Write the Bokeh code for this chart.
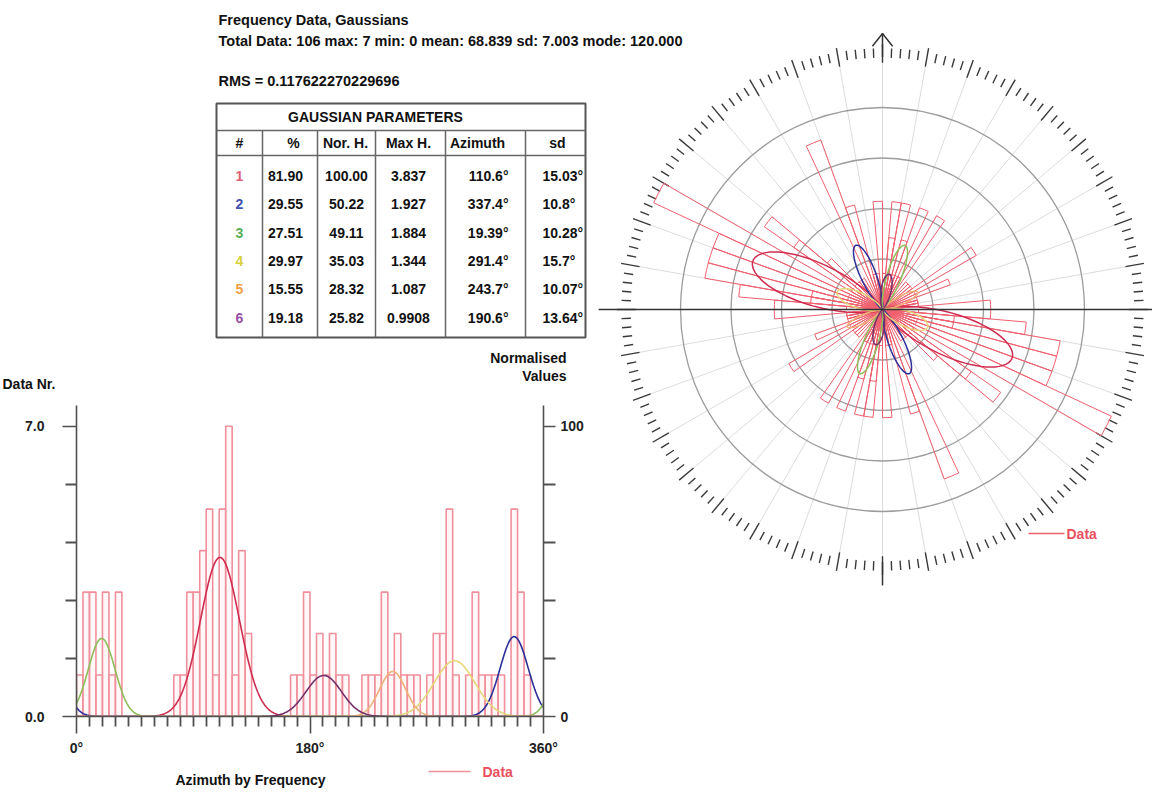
import numpy as np
from bokeh.plotting import figure
from bokeh.models import Range1d, LinearAxis, FixedTicker, GridBox, NumeralTickFormatter
from bokeh.core.properties import value
from bokeh.embed import file_html
from bokeh.resources import INLINE

FONT = "Liberation Sans"

# ---------------- data ----------------
header_line1 = "Frequency Data,  Gaussians"
header_line2 = "Total Data: 106  max: 7  min: 0  mean: 68.839  sd: 7.003  mode: 120.000"
rms_line = "RMS = 0.117622270229696"

bin_width = 5
bin_starts = list(range(0, 360, bin_width))
counts = [1, 3, 3, 1, 3, 1, 3, 0, 0, 0, 0, 0, 0, 0, 0, 1,
          1, 3, 3, 4, 5, 1, 5, 7, 1, 4, 2, 0, 0, 0, 0, 0,
          0, 1, 1, 3, 1, 2, 1, 2, 1, 1, 0, 0, 1, 1, 1, 3,
          1, 2, 1, 1, 1, 0, 1, 2, 2, 5, 1, 0, 1, 3, 1, 1,
          1, 1, 0, 5, 3, 1, 0, 0]

gauss_id = ["1", "2", "3", "4", "5", "6"]
gauss_pct = [81.90, 29.55, 27.51, 29.97, 15.55, 19.18]
gauss_norh = [100.00, 50.22, 49.11, 35.03, 28.32, 25.82]
gauss_maxh = [3.837, 1.927, 1.884, 1.344, 1.087, 0.9908]
gauss_az = [110.6, 337.4, 19.39, 291.4, 243.7, 190.6]
gauss_sd = [15.03, 10.8, 10.28, 15.7, 10.07, 13.64]
gauss_line_colors = ["#cf2d50", "#2b2f9a", "#8cbf5a", "#e6d77a", "#f0b276", "#74306a"]
gauss_id_colors = ["#e0607a", "#4050b0", "#55b055", "#d6cf3a", "#f0a040", "#9a50a8"]

table_title = "GAUSSIAN PARAMETERS"
table_headers = ["#", "%", "Nor. H.", "Max H.", "Azimuth", "sd"]

hist_x_ticks = [0, 180, 360]
hist_x_labels = ["0°", "180°", "360°"]
left_ticks = [0.0, 7.0]
left_minor = [1.4, 2.8, 4.2, 5.6]
right_ticks = [0, 100]
right_minor = [20, 40, 60, 80]
left_title = "Data Nr."
right_title = ["Normalised", "Values"]
x_title = "Azimuth by Frequency"
legend_label = "Data"

BAR_LINE = "#f0909c"
PETAL_LINE = "#f0606e"
AXIS = "#505050"

W, H = 1152, 790


def gauss(t, h, mu, sd):
    return sum(h * np.exp(-((t - mu + k) ** 2) / (2 * sd ** 2)) for k in (-360, 0, 360))


def bare(w, h, xr, yr, **kw):
    p = figure(width=w, height=h, x_range=xr, y_range=yr, output_backend="svg",
               toolbar_location=None, x_axis_location=None, y_axis_location=None, **kw)
    p.background_fill_color = None
    p.border_fill_color = None
    p.outline_line_color = None
    p.grid.visible = False
    p.frame_align = False
    return p


# ---------------- histogram ----------------
HX0, HY0 = 0, 400          # top-left of histogram figure on the page
HW, HH = 590, H - HY0
ymax = 7.5
hist = bare(HW, HH, Range1d(0, 360), Range1d(0, ymax),
            min_border_left=76, min_border_right=HW - 543, min_border_top=405 - HY0,
            min_border_bottom=H - 716)
hist.extra_y_ranges = {"norm": Range1d(0, ymax / 7 * 100)}

lefts = [s for s, c in zip(bin_starts, counts) if c > 0]
tops = [c for c in counts if c > 0]
hist.quad(left=lefts, right=[l + bin_width for l in lefts], bottom=0, top=tops,
          fill_color="#fff0f2", fill_alpha=0.5, line_color=BAR_LINE, line_width=1.6)

xs = np.arange(0, 360.5, 1.0)
for h, mu, sd, col in zip(gauss_maxh, gauss_az, gauss_sd, gauss_line_colors):
    hist.line(xs, gauss(xs, h, mu, sd), line_color=col, line_width=1.6)


def style_axis(ax, major_out, minor_out, standoff):
    ax.axis_line_color = AXIS
    ax.axis_line_width = 1.6
    ax.major_tick_line_color = AXIS
    ax.minor_tick_line_color = AXIS
    ax.major_tick_line_width = 1.6
    ax.minor_tick_line_width = 1.8
    ax.major_tick_in = 0
    ax.minor_tick_in = 0
    ax.major_tick_out = major_out
    ax.minor_tick_out = minor_out
    ax.major_label_standoff = standoff
    ax.major_label_text_font = FONT
    ax.major_label_text_font_style = "bold"
    ax.major_label_text_font_size = "14px"
    ax.major_label_text_color = "#222222"


yl = LinearAxis(ticker=FixedTicker(ticks=left_ticks, minor_ticks=left_minor),
                formatter=NumeralTickFormatter(format="0.0"))
style_axis(yl, 14, 11, 18)
hist.add_layout(yl, "left")

yr = LinearAxis(y_range_name="norm", ticker=FixedTicker(ticks=right_ticks, minor_ticks=right_minor))
style_axis(yr, 12, 12, 5)
hist.add_layout(yr, "right")

xminor = [v for v in range(10, 360, 10) if v not in hist_x_ticks]
xa = LinearAxis(ticker=FixedTicker(ticks=hist_x_ticks, minor_ticks=xminor),
                major_label_overrides={float(t): l for t, l in zip(hist_x_ticks, hist_x_labels)})
style_axis(xa, 17, 10, 6)
hist.add_layout(xa, "below")

# ---------------- rose ----------------
S = 36.07                 # px per count unit
RX0 = 590                 # left of rose figure on the page
RW, RH = W - RX0, H
cx, cy = 882 - RX0, 309   # centre in figure pixels
rose = bare(RW, RH, Range1d(-cx / S, (RW - cx) / S), Range1d(-(RH - cy) / S, cy / S), min_border=0)

# spokes
sp = np.radians(np.arange(0, 360, 10))
rose.segment(x0=0, y0=0, x1=7.0 * np.sin(sp), y1=7.0 * np.cos(sp), line_color="#dcdcdc", line_width=1)
# rings
rose.circle(x=0, y=0, radius=[1.4, 2.8, 4.2, 5.6], fill_color=None, line_color="#9c9c9c", line_width=1.3)
# tick ring
ta = np.arange(0, 360, 2)
long_ = (ta % 10 == 0)
r0 = np.where(long_, 6.84, 6.98)
r1 = np.where(long_, 7.36, 7.24)
tr = np.radians(ta)
rose.segment(x0=r0 * np.sin(tr), y0=r0 * np.cos(tr), x1=r1 * np.sin(tr), y1=r1 * np.cos(tr),
             line_color="#3a3a3a", line_width=1.4)

# petals (plotted at azimuth and its opposite)
pa = np.array([s for s, c in zip(bin_starts, counts) if c > 0], dtype=float)
pr = np.array([c for c in counts if c > 0], dtype=float)
for off in (0, 180):
    rose.wedge(x=0, y=0, radius=pr,
               start_angle=np.radians(90 - (pa + off) - bin_width), end_angle=np.radians(90 - (pa + off)),
               direction="anticlock", fill_color=None, line_color=PETAL_LINE, line_width=1)

th = np.arange(0, 360.5, 1.0)
thr = np.radians(th)
for h, mu, sd, col in zip(gauss_maxh, gauss_az, gauss_sd, gauss_line_colors):
    r = gauss(th, h, mu, sd)
    rose.line(r * np.sin(thr), r * np.cos(thr), line_color=col, line_width=1.5)
    rose.line(-r * np.sin(thr), -r * np.cos(thr), line_color=col, line_width=1.5)

# axes cross
rose.segment(x0=[-7.87, 0, 0], y0=[0, 7.0, -7.0], x1=[(RW - cx) / S, 0, 0], y1=[0, 7.65, -7.65],
             line_color="#333333", line_width=1.5)
rose.line([-0.28, 0, 0.28], [7.3, 7.65, 7.3], line_color="#333333", line_width=1.5)

# ---------------- overlay (texts, table) ----------------
ov = bare(W, H, Range1d(0, W), Range1d(H, 0), min_border=0)


def txt(x, y, t, align="left", size="14px", color="#111111"):
    ov.text(x=x, y=y, text=t, text_font=value(FONT), text_font_style="bold", text_font_size=size,
            text_align=align, text_baseline="middle", text_color=color)


txt([218], [19], [header_line1], size="14.5px")
txt([218], [40], [header_line2], size="14.5px")
txt([218], [80], [rms_line], size="14.5px")

# table frame
tl, tr_, tt, tb = 216, 585, 103, 337
col_edges = [262, 317, 375, 445, 525]
ov.rect(x=[(tl + tr_) / 2], y=[(tt + tb) / 2], width=[tr_ - tl], height=[tb - tt],
        fill_color=None, line_color="#555555", line_width=2)
ov.segment(x0=[tl, tl], y0=[130, 155], x1=[tr_, tr_], y1=[130, 155], line_color="#666666", line_width=1.5)
ov.segment(x0=col_edges, y0=[130] * 5, x1=col_edges, y1=[tb] * 5, line_color="#666666", line_width=1.5)

txt([375], [116], [table_title], align="center")
head_x = [239, 293, 345, 408, 477, 557]
txt(head_x, [142] * 6, table_headers, align="center")

row_y = [175, 203.5, 232, 260, 288.5, 317]
ov.text(x=[239] * 6, y=row_y, text=gauss_id, text_font=value(FONT), text_font_style="bold",
        text_font_size="14px", text_align="center", text_baseline="middle", text_color=gauss_id_colors)
txt([285] * 6, row_y, ["%.2f" % v for v in gauss_pct], align="center")
txt([346] * 6, row_y, ["%.2f" % v for v in gauss_norh], align="center")
txt([408] * 6, row_y, [str(v) for v in gauss_maxh], align="center")
txt([508] * 6, row_y, [str(v) + "°" for v in gauss_az], align="right")
txt([542] * 6, row_y, [str(v) + "°" for v in gauss_sd], align="left")

# axis titles
txt([2], [383], [left_title])
txt([566, 566], [357, 375], right_title, align="right")
txt([250], [779], [x_title], align="center")

# legends
ov.segment(x0=[428], y0=[771], x1=[470], y1=[771], line_color=BAR_LINE, line_width=1.6)
txt([482], [771], [legend_label], color="#e8505e")
ov.segment(x0=[1028], y0=[533], x1=[1064], y1=[533], line_color=PETAL_LINE, line_width=1.3)
txt([1066], [533], [legend_label], color="#e8505e")

layout = GridBox(children=[(hist, 1, 0), (rose, 0, 1, 2, 1), (ov, 0, 0, 2, 2)],
                 rows=["%dpx" % HY0, "%dpx" % HH], cols=["%dpx" % RX0, "%dpx" % RW], spacing=0)

open("out.html", "w").write(file_html(layout, INLINE))
